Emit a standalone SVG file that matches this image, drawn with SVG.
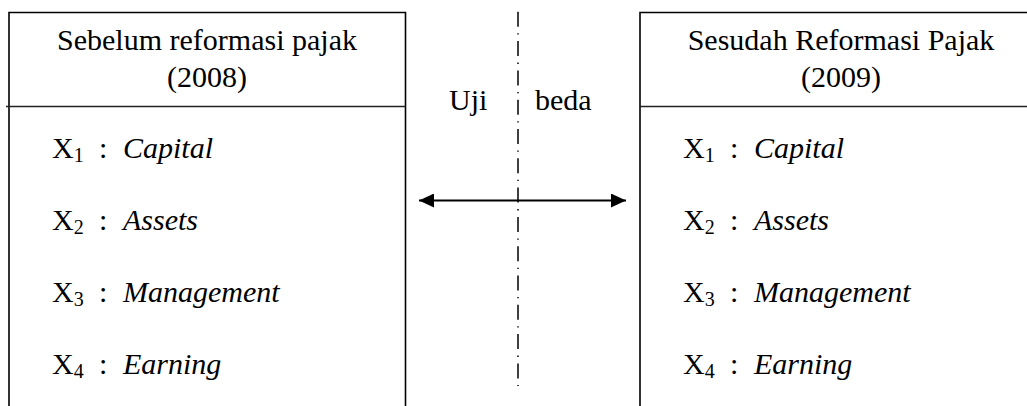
<svg xmlns="http://www.w3.org/2000/svg" width="1027" height="406" viewBox="0 0 1027 406">
  <defs>
    <style>
      .frame { fill: none; stroke: #000; stroke-width: 1.6; }
      .rule { fill: none; stroke: #222; stroke-width: 1.4; }
      .axis { fill: none; stroke: #000; stroke-width: 1.5; stroke-dasharray: 15 6.5 1.3 6.5; }
      .link { fill: none; stroke: #000; stroke-width: 1.8; }
      text { font-family: "Liberation Serif", "Times New Roman", serif; font-size: 30px; fill: #000; }
      .title { text-anchor: middle; }
      .sub { font-size: 20px; }
      .it { font-style: italic; }
    </style>
    <marker id="head" viewBox="0 0 15 14" refX="15" refY="7" markerWidth="15" markerHeight="14" markerUnits="userSpaceOnUse" orient="auto-start-reverse">
      <path d="M0,0 L15,7 L0,14 Z" fill="#000"/>
    </marker>
  </defs>

  <!-- box: before reform -->
  <g id="node-before">
    <path class="frame" d="M9,406 V12.5 H405.5 V406"/>
    <line class="rule" x1="6" y1="106.5" x2="405.5" y2="106.5"/>
    <text class="title" x="207" y="50">Sebelum reformasi pajak</text>
    <text class="title" x="207" y="87">(2008)</text>
    <text x="52" y="158">X<tspan class="sub" dy="4">1</tspan><tspan dy="-4" x="99">:</tspan><tspan class="it" x="123">Capital</tspan></text>
    <text x="52" y="230">X<tspan class="sub" dy="4">2</tspan><tspan dy="-4" x="99">:</tspan><tspan class="it" x="123">Assets</tspan></text>
    <text x="52" y="302">X<tspan class="sub" dy="4">3</tspan><tspan dy="-4" x="99">:</tspan><tspan class="it" x="123">Management</tspan></text>
    <text x="52" y="374">X<tspan class="sub" dy="4">4</tspan><tspan dy="-4" x="99">:</tspan><tspan class="it" x="123">Earning</tspan></text>
  </g>

  <!-- box: after reform -->
  <g id="node-after">
    <path class="frame" d="M640,406 V12.5 H1030"/>
    <line class="rule" x1="640" y1="106.5" x2="1030" y2="106.5"/>
    <text class="title" x="841" y="50">Sesudah Reformasi Pajak</text>
    <text class="title" x="841" y="87">(2009)</text>
    <text x="683" y="158">X<tspan class="sub" dy="4">1</tspan><tspan dy="-4" x="730">:</tspan><tspan class="it" x="754">Capital</tspan></text>
    <text x="683" y="230">X<tspan class="sub" dy="4">2</tspan><tspan dy="-4" x="730">:</tspan><tspan class="it" x="754">Assets</tspan></text>
    <text x="683" y="302">X<tspan class="sub" dy="4">3</tspan><tspan dy="-4" x="730">:</tspan><tspan class="it" x="754">Management</tspan></text>
    <text x="683" y="374">X<tspan class="sub" dy="4">4</tspan><tspan dy="-4" x="730">:</tspan><tspan class="it" x="754">Earning</tspan></text>
  </g>

  <!-- comparison test label -->
  <g id="node-test">
    <text x="449" y="110">Uji</text>
    <text x="535" y="110">beda</text>
  </g>

  <!-- connectors -->
  <g id="connectors">
    <line class="axis" x1="518" y1="11.8" x2="518" y2="386"/>
    <line class="link" x1="419" y1="200.5" x2="626" y2="200.5" marker-start="url(#head)" marker-end="url(#head)"/>
  </g>
</svg>
